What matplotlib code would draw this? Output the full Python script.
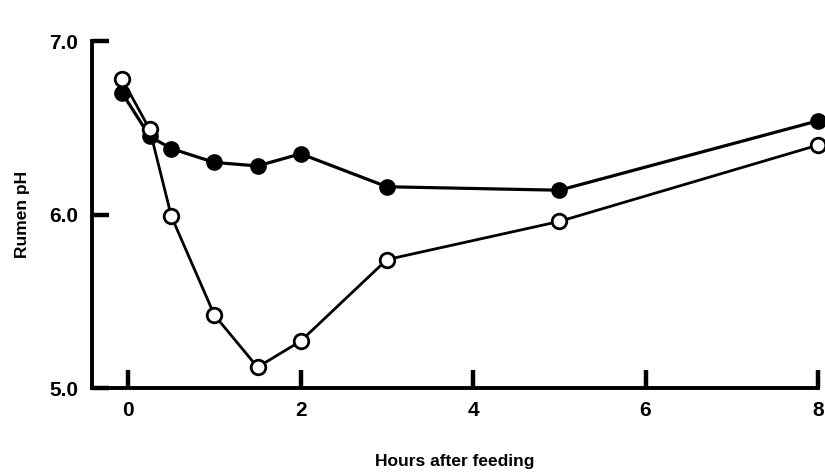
import matplotlib
matplotlib.use("Agg")
import matplotlib.pyplot as plt

# hours after feeding and rumen pH
hours = [-0.07, 0.25, 0.5, 1.0, 1.5, 2.0, 3.0, 5.0, 8.0]
ph_filled = [6.70, 6.45, 6.38, 6.30, 6.28, 6.35, 6.16, 6.14, 6.54]
ph_open = [6.78, 6.49, 5.99, 5.42, 5.12, 5.27, 5.74, 5.96, 6.40]

x_ticks = [0, 2, 4, 6, 8]
y_ticks = [5.0, 6.0, 7.0]

plt.rcParams['font.family'] = ['Liberation Sans', 'DejaVu Sans']
plt.rcParams['font.weight'] = 'bold'

fig = plt.figure(figsize=(8.25, 4.73), dpi=100)
ax = fig.add_axes([0.1115, 0.1797, 0.88, 0.7336])

ax.plot(hours, ph_filled, color='black', lw=2.3, marker='o', ms=10.5,
        mfc='black', mec='black', mew=1.5, clip_on=False, zorder=3)
ax.plot(hours, ph_open, color='black', lw=2.0, marker='o', ms=10.5,
        mfc='white', mec='black', mew=2.0, clip_on=False, zorder=4)

ax.set_xlim(-0.42, 8.0)
ax.set_ylim(5.0, 7.0)
ax.set_xticks(x_ticks)
ax.set_xticklabels([str(t) for t in x_ticks])
ax.set_yticks(y_ticks)
ax.set_yticklabels([f"{t:.1f}" for t in y_ticks])

for side in ['top', 'right']:
    ax.spines[side].set_visible(False)
for side in ['left', 'bottom']:
    ax.spines[side].set_linewidth(2.8)

ax.tick_params(axis='x', direction='in', length=13, width=3.2, pad=9, labelsize=15)
ax.tick_params(axis='y', direction='in', length=12, width=3.2, pad=10, labelsize=15)

ax.set_xlabel("Hours after feeding", fontsize=12.5, fontweight='bold', labelpad=25)
ax.set_ylabel("Rumen pH", fontsize=12.5, fontweight='bold', labelpad=14)

fig.savefig("out.png", dpi=100)
